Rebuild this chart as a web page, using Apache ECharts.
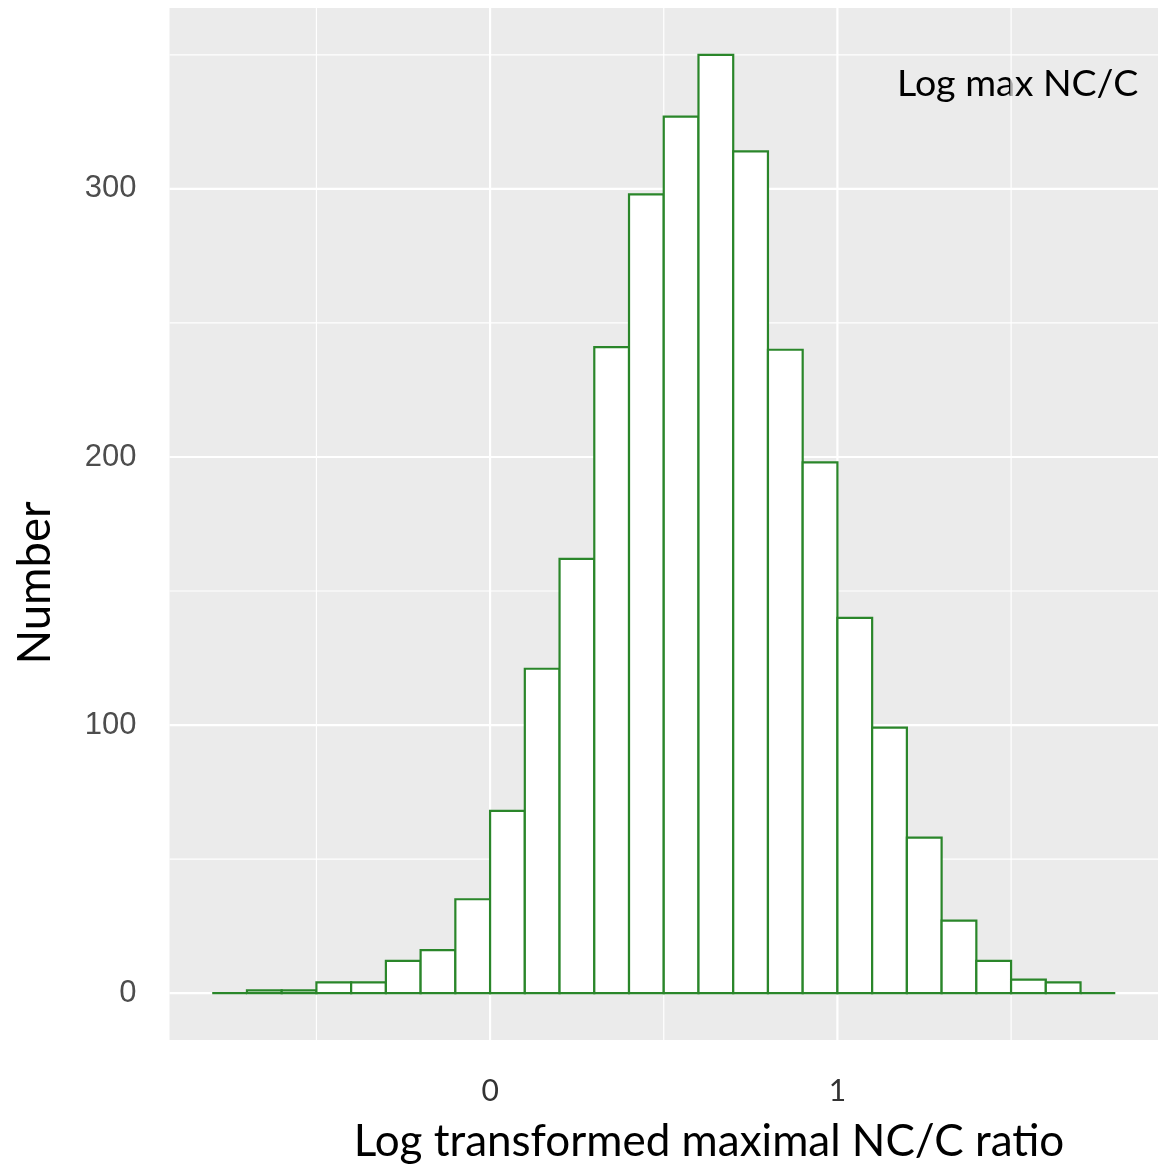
<!DOCTYPE html>
<html>
<head>
<meta charset="utf-8">
<script src="https://cdn.jsdelivr.net/npm/echarts@6/dist/echarts.min.js"></script>
<style>
  html, body { margin: 0; padding: 0; background: #fff; }
  #chart { width: 1158px; height: 1172px; }
</style>
</head>
<body>
<div id="chart"></div>
<script>
// histogram bins (width 0.1)
const binStarts = [-0.8, -0.7, -0.6, -0.5, -0.4, -0.3, -0.2, -0.1, 0.0, 0.1, 0.2, 0.3, 0.4,
                   0.5, 0.6, 0.7, 0.8, 0.9, 1.0, 1.1, 1.2, 1.3, 1.4, 1.5, 1.6, 1.7];
const counts = [0, 1, 1, 4, 4, 12, 16, 35, 68, 121, 162, 241, 298,
                327, 350, 314, 240, 198, 140, 99, 58, 27, 12, 5, 4, 0];
const binWidth = 0.1;

// ticks / grid
const xMajor = [0, 1];
const xMinor = [-0.5, 0.5, 1.5];
const yMajor = [0, 100, 200, 300];
const yMinor = [50, 150, 250, 350];

const xMin = -0.923, xMax = 1.923;
const yMin = -17.5, yMax = 367.5;

const myChart = echarts.init(document.getElementById('chart'));

function gridLines(values, dir, width) {
  return {
    type: 'custom',
    coordinateSystem: 'cartesian2d',
    silent: true,
    z: 1,
    data: values.map(v => [v, 0]),
    encode: { x: 0, y: 1 },
    renderItem: function (params, api) {
      const v = api.value(0);
      let p0, p1;
      if (dir === 'v') {
        p0 = api.coord([v, yMin]);
        p1 = api.coord([v, yMax]);
      } else {
        p0 = api.coord([xMin, v]);
        p1 = api.coord([xMax, v]);
      }
      return {
        type: 'line',
        shape: { x1: p0[0], y1: p0[1], x2: p1[0], y2: p1[1] },
        style: { stroke: '#ffffff', lineWidth: width }
      };
    }
  };
}

myChart.setOption({
  animation: false,
  grid: {
    left: 169.5,
    top: 8,
    width: 991.3,
    height: 1032,
    show: true,
    backgroundColor: '#EBEBEB',
    borderWidth: 0
  },
  xAxis: {
    type: 'value',
    min: xMin,
    max: xMax,
    splitLine: { show: false },
    axisLine: { show: false },
    axisTick: { show: true, customValues: xMajor, length: 4, lineStyle: { color: '#777' } },
    axisLabel: {
      customValues: xMajor,
      margin: 36,
      fontFamily: 'Lato',
      fontSize: 30,
      color: '#333'
    }
  },
  yAxis: {
    type: 'value',
    min: yMin,
    max: yMax,
    splitLine: { show: false },
    axisLine: { show: false },
    axisTick: { show: true, customValues: yMajor, length: 4, lineStyle: { color: '#777' } },
    axisLabel: {
      customValues: yMajor,
      margin: 33,
      fontFamily: 'Liberation Sans',
      fontSize: 31,
      color: '#4D4D4D'
    }
  },
  graphic: [
    {
      type: 'text',
      left: 897,
      top: 65,
      style: { text: 'Log max NC/C', font: '37.5px Lato', fill: '#000', textAlign: 'left' }
    },
    {
      type: 'text',
      x: 709,
      y: 1142,
      style: {
        text: 'Log transformed maximal NC/C ratio',
        font: '44px Lato', fill: '#000',
        textAlign: 'center', textVerticalAlign: 'middle'
      }
    },
    {
      type: 'text',
      x: 35,
      y: 583,
      rotation: Math.PI / 2,
      style: {
        text: 'Number',
        font: '45.5px Lato', fill: '#000',
        textAlign: 'center', textVerticalAlign: 'middle'
      }
    }
  ],
  series: [
    gridLines(yMinor, 'h', 1.2),
    gridLines(xMinor, 'v', 1.2),
    gridLines(yMajor, 'h', 2.2),
    gridLines(xMajor, 'v', 2.2),
    {
      type: 'custom',
      coordinateSystem: 'cartesian2d',
      z: 5,
      data: binStarts.map((s, i) => [s, s + binWidth, counts[i]]),
      encode: { x: [0, 1], y: 2 },
      renderItem: function (params, api) {
        const top = api.coord([api.value(0), api.value(2)]);
        const bot = api.coord([api.value(1), 0]);
        return {
          type: 'rect',
          shape: { x: top[0], y: top[1], width: bot[0] - top[0], height: bot[1] - top[1] },
          style: { fill: '#ffffff', stroke: '#2A862A', lineWidth: 2.2 }
        };
      }
    }
  ]
});
</script>
</body>
</html>
